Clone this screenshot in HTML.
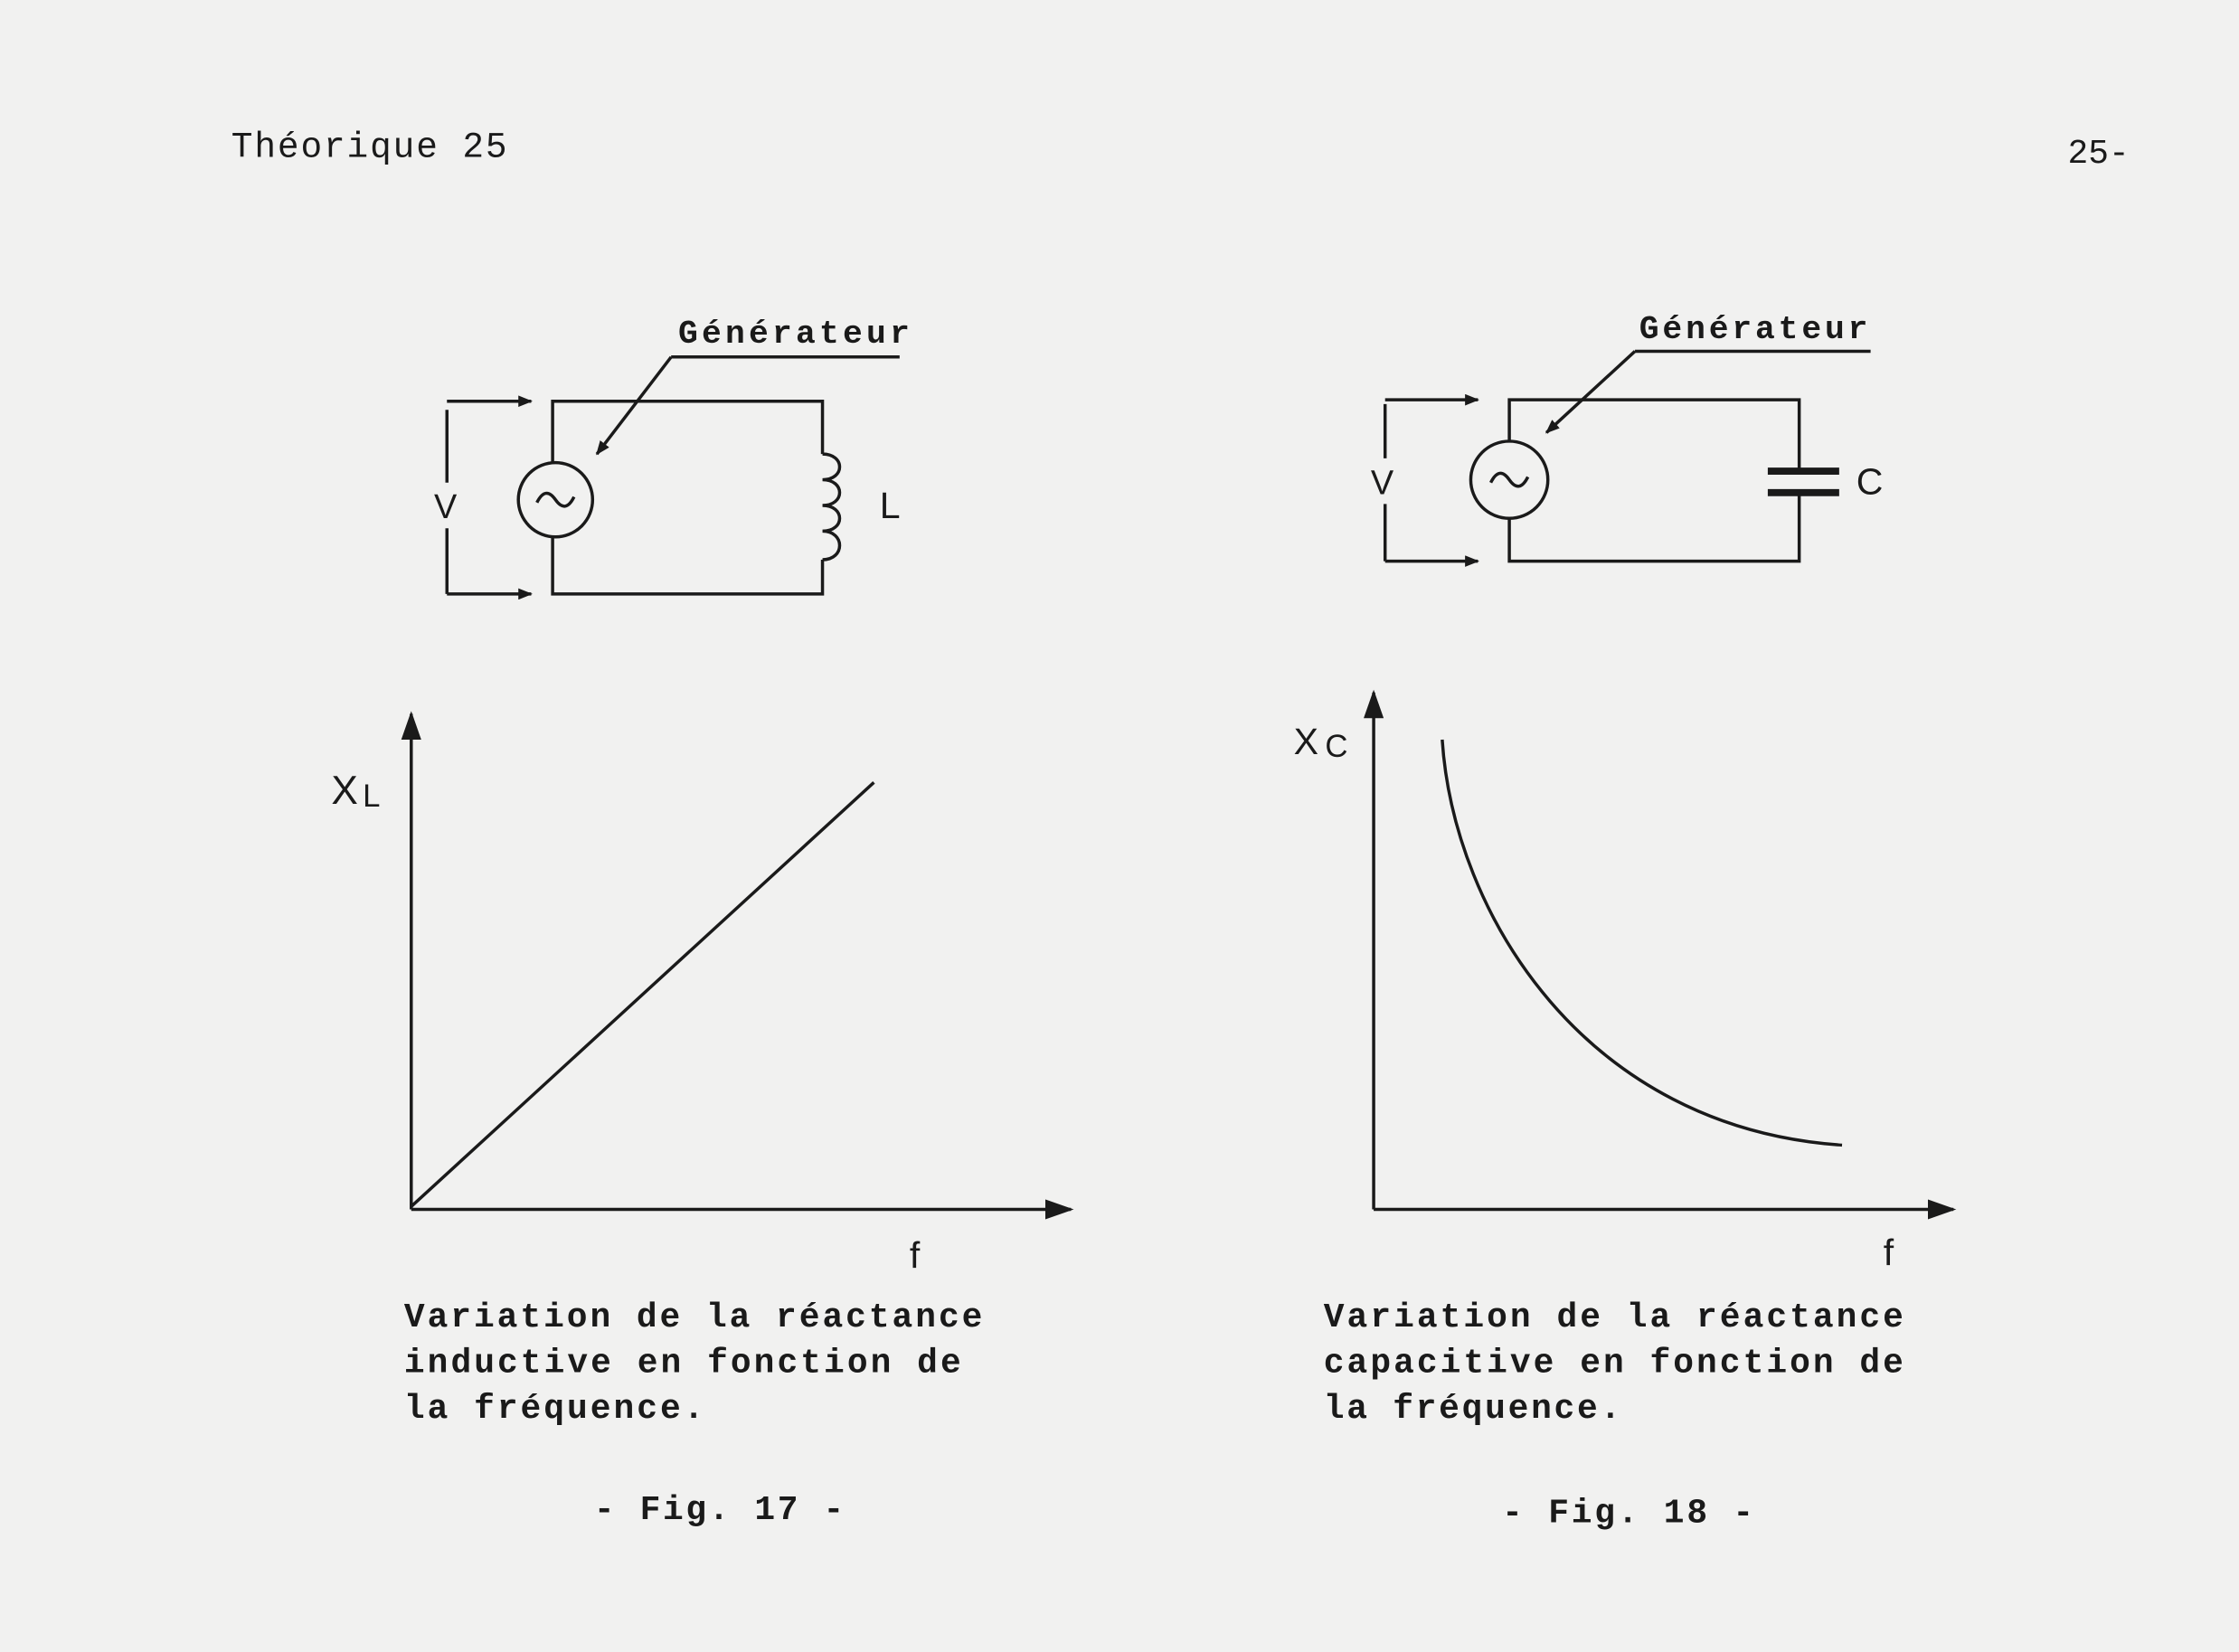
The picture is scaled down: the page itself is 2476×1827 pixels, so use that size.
<!DOCTYPE html>
<html><head><meta charset="utf-8"><style>
html,body{margin:0;padding:0;background:#f1f1f0;}
svg{display:block}
text{font-family:"Liberation Mono",monospace;fill:#1a1a1a;}
.b{font-weight:bold}
.s{font-family:"Liberation Sans",sans-serif;font-weight:500}
</style></head><body>
<svg width="2476" height="1827" viewBox="0 0 1568 1157" preserveAspectRatio="none" xmlns="http://www.w3.org/2000/svg">
<defs>
<marker id="a" markerWidth="10" markerHeight="8" refX="9" refY="4" orient="auto" markerUnits="userSpaceOnUse"><path d="M0,0 L10,4 L0,8 Z" fill="#1a1a1a"/></marker>
<marker id="A" markerWidth="20" markerHeight="14" refX="18" refY="7" orient="auto" markerUnits="userSpaceOnUse"><path d="M0,0 L20,7 L0,14 Z" fill="#1a1a1a"/></marker>
</defs>
<rect width="1568" height="1157" fill="#f1f1f0"/>
<text x="162" y="110" font-size="25" textLength="193">Théorique 25</text>
<text x="1448" y="114" font-size="24">25-</text>

<g stroke="#1a1a1a" stroke-width="2.2" fill="none">
<path d="M387,325 V281 H576 V318 M576,392 V416 H387 V376"/>
<circle cx="389" cy="350" r="26" fill="#f1f1f0"/>
<path d="M376,352 q6,-12 13,-2 q7,10 13,-2"/>
<path d="M576,318 c16,0 16,18 0,18 c16,0 16,18 0,18 c16,0 16,18 0,18 c16,0 16,20 0,20"/>
<path d="M313,287 V338 M313,370 V416"/>
<path d="M313,281 H372" marker-end="url(#a)"/>
<path d="M313,416 H372" marker-end="url(#a)"/>
<path d="M470,250 H630"/>
<path d="M470,250 L418,318" marker-end="url(#a)"/>
<path d="M288,847 V500" marker-end="url(#A)"/>
<path d="M288,847 H750" marker-end="url(#A)"/>
<path d="M288,845 L612,548"/>
<path d="M1057,310 V280 H1260 V330 M1260,345 V393 H1057 V363"/>
<circle cx="1057" cy="336" r="27" fill="#f1f1f0"/>
<path d="M1044,338 q6,-12 13,-2 q7,10 13,-2"/>
<path d="M1238,330 H1288 M1238,345 H1288" stroke-width="5"/>
<path d="M970,283 V321 M970,353 V393"/>
<path d="M970,280 H1035" marker-end="url(#a)"/>
<path d="M970,393 H1035" marker-end="url(#a)"/>
<path d="M1145,246 H1310"/>
<path d="M1145,246 L1083,303" marker-end="url(#a)"/>
<path d="M962,847 V485" marker-end="url(#A)"/>
<path d="M962,847 H1368" marker-end="url(#A)"/>
<path d="M1010,518 C1018,640 1110,790 1290,802"/>
</g>

<text x="475" y="240" font-size="23" class="b" textLength="162">Générateur</text>
<text x="1148" y="237" font-size="23" class="b" textLength="160">Générateur</text>
<text x="304" y="363" font-size="24" class="s">V</text>
<text x="616" y="363" font-size="26" class="s">L</text>
<text x="960" y="346" font-size="24" class="s">V</text>
<text x="1300" y="346" font-size="26" class="s">C</text>
<text x="232" y="563" font-size="28" class="s">X</text><text x="254" y="565" font-size="22" class="s">L</text>
<text x="906" y="528" font-size="26" class="s">X</text><text x="928" y="530" font-size="22" class="s">C</text>
<text x="637" y="888" font-size="26" class="s">f</text>
<text x="1319" y="886" font-size="26" class="s">f</text>

<g font-size="24" class="b">
<text x="283" y="929" textLength="405" class="b">Variation de la réactance</text>
<text x="283" y="961" textLength="390" class="b">inductive en fonction de</text>
<text x="283" y="993" textLength="210" class="b">la fréquence.</text>
<text x="416" y="1064" textLength="175" class="b">- Fig. 17 -</text>
<text x="927" y="929" textLength="406" class="b">Variation de la réactance</text>
<text x="927" y="961" textLength="406" class="b">capacitive en fonction de</text>
<text x="927" y="993" textLength="208" class="b">la fréquence.</text>
<text x="1052" y="1066" textLength="176" class="b">- Fig. 18 -</text>
</g>
</svg>
</body></html>
